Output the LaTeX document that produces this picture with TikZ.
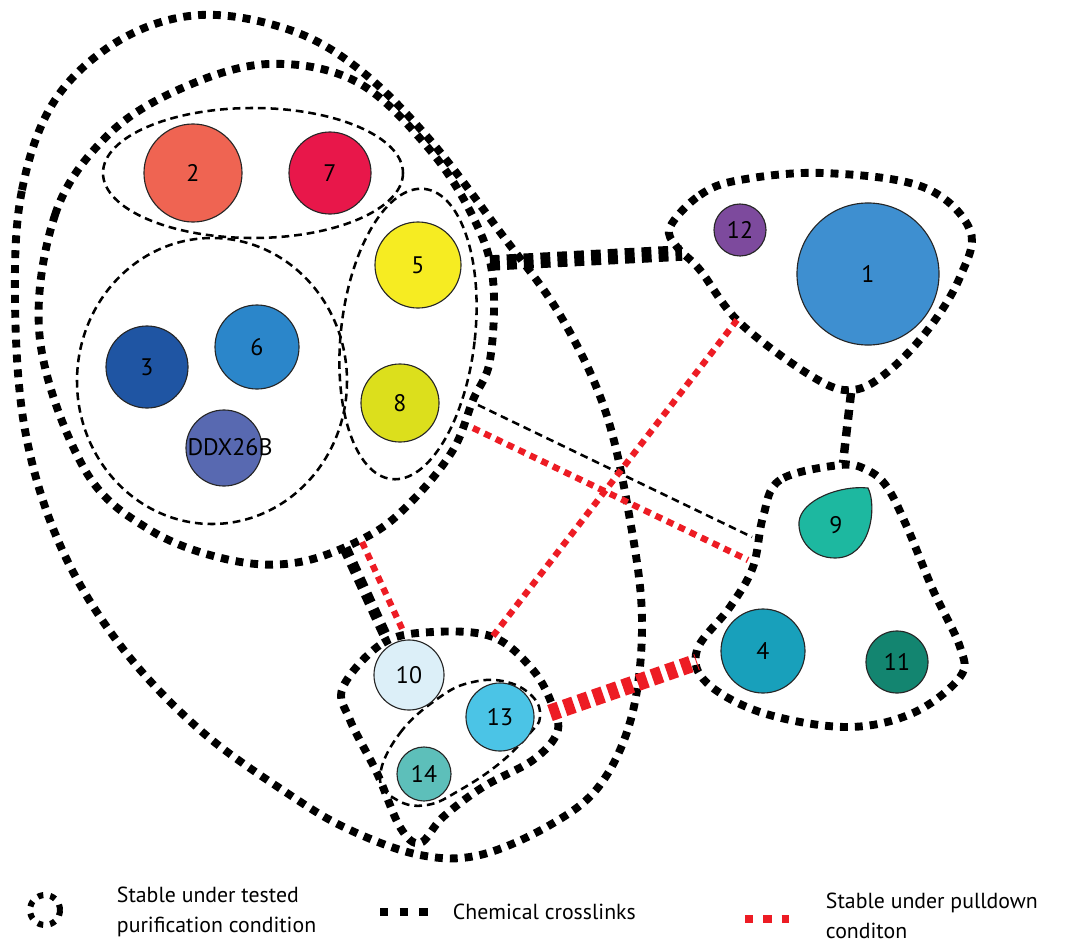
\documentclass[tikz,border=0pt]{standalone}
\usepackage{fontspec}
\setmainfont{PT Sans}
\usepackage{xcolor}
\usepackage{tikz}
\usetikzlibrary{positioning}
\definecolor{sub1}{HTML}{3E8FD0}
\definecolor{sub2}{HTML}{EF6452}
\definecolor{sub3}{HTML}{1F55A3}
\definecolor{sub4}{HTML}{18A0BB}
\definecolor{sub5}{HTML}{F6EC22}
\definecolor{sub6}{HTML}{2B86CA}
\definecolor{sub7}{HTML}{E8174A}
\definecolor{sub8}{HTML}{DCDF1C}
\definecolor{sub9}{HTML}{1DB8A0}
\definecolor{sub10}{HTML}{DCEFF8}
\definecolor{sub11}{HTML}{138570}
\definecolor{sub12}{HTML}{7D4A9D}
\definecolor{sub13}{HTML}{4BC4E6}
\definecolor{sub14}{HTML}{5DBFBA}
\definecolor{subD}{HTML}{5869B1}
\definecolor{pullred}{HTML}{ED1C24}

\begin{document}
\begin{tikzpicture}[
  x=0.025cm, y=-0.025cm,
  prot/.style={circle, draw=black!85, line width=0.8pt, inner sep=0pt, minimum size=#1*0.05cm, font=\fontsize{17}{17}\selectfont},
  purif/.style={line width=5.6pt, dash pattern=on 5.6pt off 5pt},
  subgrp/.style={line width=1.8pt, dash pattern=on 5.5pt off 3.5pt},
  xlink/.style={line width=#1, dash pattern=on 7pt off 5pt},
  pull/.style={pullred, line width=#1, dash pattern=on 5pt off 4pt},
  legtext/.style={font=\fontsize{15.5}{21.5}\selectfont, anchor=west, align=left}
]
\useasboundingbox (0,0) rectangle (1079,947);

% Subcomplexes (thin dashed)
\draw[subgrp] (253,173) ellipse [x radius=150, y radius=65];
\draw[subgrp] (212,381) ellipse [x radius=135, y radius=143];
\draw[subgrp, rotate around={-6.5:(408,334)}] (408,334) ellipse [x radius=67, y radius=146];
\draw[subgrp] plot[smooth cycle, tension=0.7] coordinates {(380,777) (400,733) (440,697) (473,682) (507,682) (533,697) (540,717) (530,733) (500,763) (460,790) (427,805) (397,800)};

% Stable complexes (thick dotted)
\draw[purif] plot[smooth cycle, tension=0.6] coordinates {(15,300) (22,190) (55,100) (120,40) (200,15) (290,30) (360,70) (430,140) (500,232) (560,315) (605,410) (630,520) (642,620) (632,715) (600,785) (550,825) (480,855) (420,855) (350,830) (290,795) (200,730) (120,645) (60,545) (25,430)};
\draw[purif] plot[smooth cycle, tension=0.6] coordinates {(40,340) (55,215) (107,136) (180,89) (268,64) (357,82) (430,150) (475,221) (493,280) (490,360) (473,400) (453,450) (413,500) (370,535) (300,562) (230,560) (150,530) (85,470)};
\draw[purif] plot[smooth cycle, tension=0.6] coordinates {(343,687) (383,643) (433,632) (493,637) (533,670) (553,707) (557,733) (533,760) (483,787) (443,817) (420,843) (400,827) (377,773) (350,720)};
\draw[purif] plot[smooth cycle, tension=0.6] coordinates {(670,227) (700,195) (740,180) (823,173) (923,187) (970,230) (960,277) (930,327) (890,370) (853,390) (813,377) (740,323) (700,270) (677,247)};
\draw[purif] plot[smooth cycle, tension=0.6] coordinates {(840,465) (780,480) (763,517) (753,567) (730,607) (697,650) (707,683) (763,713) (847,727) (913,713) (960,677) (960,647) (933,590) (907,527) (887,487) (867,470)};

% Link end points
\coordinate (bR)  at (490,263);
\coordinate (dL)  at (682,253);
\coordinate (dB)  at (851,393);
\coordinate (eT)  at (843,463);
\coordinate (bB)  at (345,548);
\coordinate (cTL) at (386,637);
\coordinate (bBr) at (362,542);
\coordinate (cT)  at (404,633);
\coordinate (cTR) at (493,636);
\coordinate (dLB) at (737,320);
\coordinate (bRr) at (473,428);
\coordinate (eL)  at (748,560);
\coordinate (cR)  at (550,713);
\coordinate (eLL) at (697,662);
\coordinate (bRk) at (478,405);
\coordinate (eLk) at (752,537);

% Crosslinks and pulldown links
\draw[xlink=11pt] (bR) -- (dL);
\draw[xlink=6pt] (dB) -- (eT);
\draw[xlink=8pt] (bB) -- (cTL);
\draw[subgrp] (bRk) -- (eLk);
\draw[pull=4.5pt] (bBr) -- (cT);
\draw[pull=4.5pt] (cTR) -- (dLB);
\draw[pull=4.5pt] (bRr) -- (eL);
\draw[pull=12pt, dash pattern=on 7pt off 4pt] (cR) -- (eLL);

% Proteins
\node[prot=49, fill=sub2] (p2) at (193,173) {2};
\node[prot=41, fill=sub7] (p7) at (330,173) {7};
\node[prot=43, fill=sub5] (p5) at (418,265) {5};
\node[prot=39, fill=sub8] (p8) at (400,403) {8};
\node[prot=41, fill=sub3] (p3) at (147,367) {3};
\node[prot=42, fill=sub6] (p6) at (257,347) {6};
\node[prot=38, fill=subD] (pD) at (224,448) {};
\node[font=\fontsize{17}{17}\selectfont] (lD) at (230,447) {DDX26B};
\node[prot=26, fill=sub12] (p12) at (740,230) {12};
\node[prot=71, fill=sub1] (p1) at (868,274) {1};
\draw[fill=sub9, draw=black!85, line width=0.8pt] (868,488) .. controls (877,505) and (872,558) .. (835,558) .. controls (812,558) and (798,540) .. (799,522) .. controls (801,500) and (840,485) .. (868,488) -- cycle;
\node[font=\fontsize{17}{17}\selectfont] (p9) at (836,525) {9};
\node[prot=42, fill=sub4] (p4) at (763,651) {4};
\node[prot=31, fill=sub11] (p11) at (897,662) {11};
\node[prot=35, fill=sub10] (p10) at (409,675) {10};
\node[prot=34, fill=sub13] (p13) at (500,717) {13};
\node[prot=27, fill=sub14] (p14) at (424,774) {14};

% Legend
\coordinate (lgP) at (45,910);
\draw[line width=4.3pt, dash pattern=on 4pt off 5pt] (lgP) circle [radius=15];
\node[legtext] (txtPur) at (112,912) {Stable under tested\\purification condition};
\coordinate (lgX1) at (380,912);
\coordinate (lgX2) at (428,912);
\draw[line width=5.6pt, dash pattern=on 6pt off 8pt] (lgX1) -- (lgX2);
\node[legtext] (txtX) at (448,912) {Chemical crosslinks};
\coordinate (lgR1) at (745,919);
\coordinate (lgR2) at (789,919);
\draw[pullred, line width=5pt, dash pattern=on 6pt off 7pt] (lgR1) -- (lgR2);
\node[legtext] (txtPull) at (821,916) {Stable under pulldown\\conditon};
\end{tikzpicture}
\end{document}
